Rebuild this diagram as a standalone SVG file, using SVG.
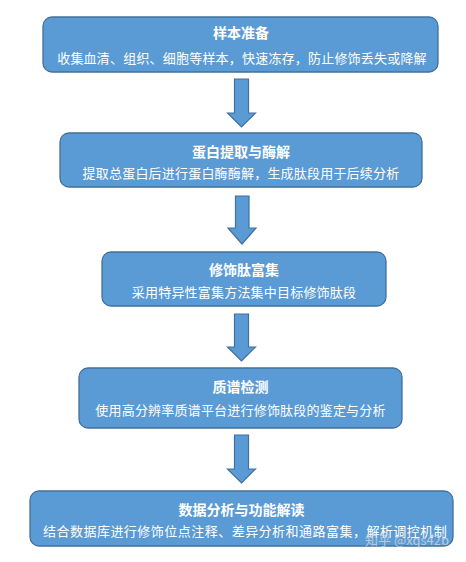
<svg xmlns="http://www.w3.org/2000/svg" width="466" height="562" viewBox="0 0 466 562">
<style>
.box{fill:#5b9bd5;stroke:#41719c;stroke-width:1.3}
.arr{fill:#5b9bd5;stroke:#41719c;stroke-width:1.2;stroke-linejoin:miter}
.t{font-family:"Noto Sans CJK SC","Noto Sans",sans-serif;fill:#ffffff;text-anchor:middle}
.h{font-size:14px;font-weight:bold}
.s{font-size:13px;letter-spacing:0.2px}
.wm{font-family:"Noto Sans CJK SC","Noto Sans",sans-serif;font-size:13px;fill:#ffffff;fill-opacity:0.6;stroke:#8a9aaa;stroke-opacity:0.35;stroke-width:0.5}
</style>
<rect width="466" height="562" fill="#ffffff"/>
<g id="connectors">
<polygon class="arr" points="234.5,79 248.5,79 248.5,113 255.5,113 241.5,127 227.5,113 234.5,113"/>
<polygon class="arr" points="235.5,196 249,196 249,228 256,228 242,244 228,228 235.5,228"/>
<polygon class="arr" points="234.5,314 248.5,314 248.5,347 255.5,347 241.5,361 227.5,347 234.5,347"/>
<polygon class="arr" points="234.5,435 248.5,435 248.5,469 255.5,469 241.5,483 227.5,469 234.5,469"/>
</g>
<g id="node1">
<rect class="box" x="43" y="17" width="395" height="55" rx="9"/>
<text class="t h" x="241" y="38">样本准备</text>
<text class="t s" x="242" y="62.5">收集血清、组织、细胞等样本，快速冻存，防止修饰丢失或降解</text>
</g>
<g id="node2">
<rect class="box" x="60" y="133" width="362" height="54" rx="9"/>
<text class="t h" x="241" y="157">蛋白提取与酶解</text>
<text class="t s" x="241" y="177.5">提取总蛋白后进行蛋白酶酶解，生成肽段用于后续分析</text>
</g>
<g id="node3">
<rect class="box" x="102" y="252" width="284" height="54" rx="9"/>
<text class="t h" x="244" y="275">修饰肽富集</text>
<text class="t s" x="244" y="296.5">采用特异性富集方法集中目标修饰肽段</text>
</g>
<g id="node4">
<rect class="box" x="79" y="368" width="323" height="60" rx="9"/>
<text class="t h" x="240.5" y="392">质谱检测</text>
<text class="t s" x="240.5" y="414.5">使用高分辨率质谱平台进行修饰肽段的鉴定与分析</text>
</g>
<g id="node5">
<rect class="box" x="30" y="491" width="423" height="55" rx="9"/>
<text class="t h" x="241.5" y="515">数据分析与功能解读</text>
<text class="t s" x="245" y="535.5" textLength="404" lengthAdjust="spacing">结合数据库进行修饰位点注释、差异分析和通路富集，解析调控机制</text>
</g>
<text class="wm" x="365" y="545">知乎 @xqs42b</text>
</svg>
